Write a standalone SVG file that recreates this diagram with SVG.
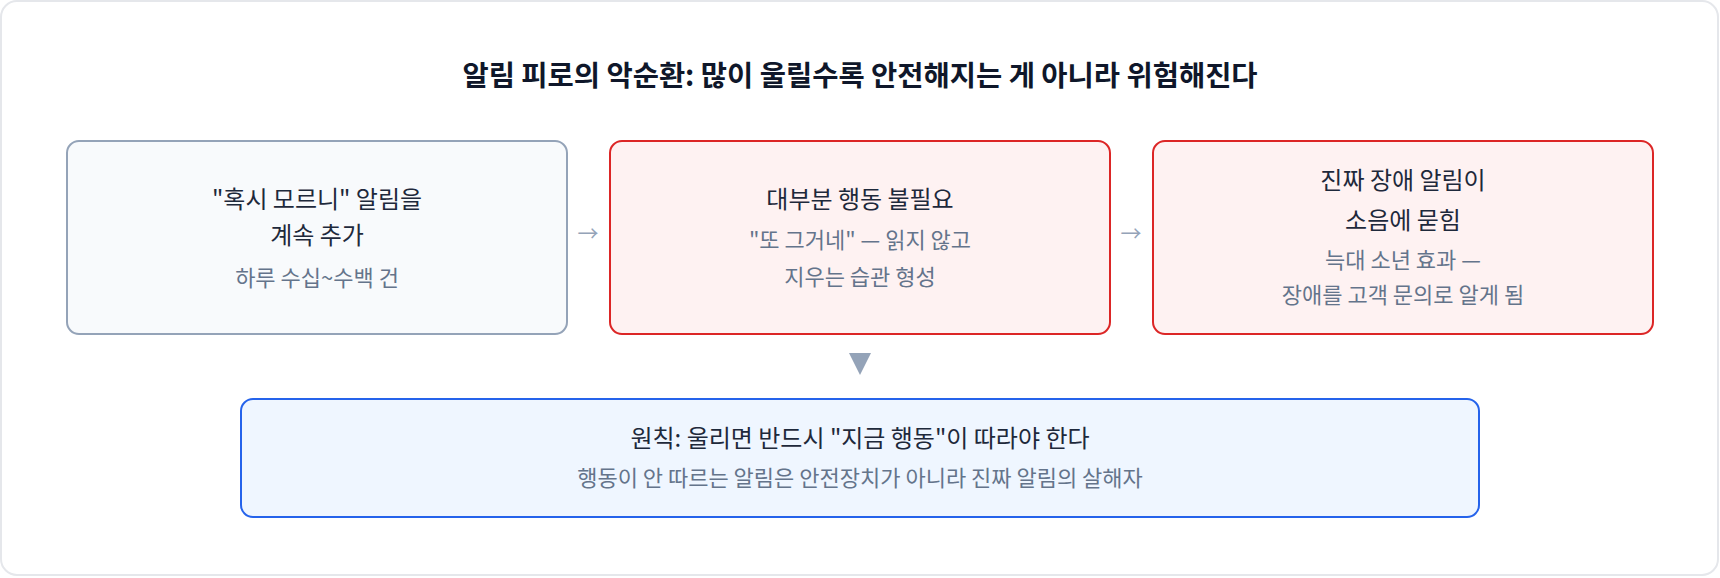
<svg xmlns="http://www.w3.org/2000/svg" width="1720" height="578" viewBox="0 0 1720 578">
<style>
.frame{fill:#ffffff;stroke:#e5e7eb;stroke-width:2}
.t{font-family:"Noto Sans CJK KR","Noto Sans",sans-serif;text-anchor:middle}
.title{font-size:28.5px;font-weight:700;fill:#0f172a}
.main{font-size:24px;fill:#1e293b}
.sub{font-size:22px;fill:#64748b}
.arr{font-size:21px;fill:#94a3b8}
.gray{fill:#f8fafc;stroke:#94a3b8;stroke-width:2}
.red{fill:#fef2f2;stroke:#dc2626;stroke-width:2}
.blue{fill:#eff6ff;stroke:#2563eb;stroke-width:2}
</style>
<rect class="frame" x="1" y="1" width="1717" height="574" rx="16"/>
<text class="t title" x="860" y="86">알림 피로의 악순환: 많이 울릴수록 안전해지는 게 아니라 위험해진다</text>
<g id="node1">
<rect class="gray" x="67" y="141" width="500" height="193" rx="12"/>
<text class="t main" x="317" y="208">"혹시 모르니" 알림을</text>
<text class="t main" x="317" y="244">계속 추가</text>
<text class="t sub" x="317" y="286">하루 수십~수백 건</text>
</g>
<g id="node2">
<rect class="red" x="610" y="141" width="500" height="193" rx="12"/>
<text class="t main" x="860" y="208">대부분 행동 불필요</text>
<text class="t sub" x="860" y="248">"또 그거네" — 읽지 않고</text>
<text class="t sub" x="860" y="285">지우는 습관 형성</text>
</g>
<g id="node3">
<rect class="red" x="1153" y="141" width="500" height="193" rx="12"/>
<text class="t main" x="1403" y="189">진짜 장애 알림이</text>
<text class="t main" x="1403" y="229">소음에 묻힘</text>
<text class="t sub" x="1403" y="268">늑대 소년 효과 —</text>
<text class="t sub" x="1403" y="303">장애를 고객 문의로 알게 됨</text>
</g>
<g id="node4">
<rect class="blue" x="241" y="399" width="1238" height="118" rx="12"/>
<text class="t main" x="860" y="447">원칙: 울리면 반드시 "지금 행동"이 따라야 한다</text>
<text class="t sub" x="860" y="486">행동이 안 따르는 알림은 안전장치가 아니라 진짜 알림의 살해자</text>
</g>
<g id="connectors">
<text class="t arr" x="588" y="241">→</text>
<text class="t arr" x="1131" y="241">→</text>
<polygon points="849,353 871,353 860,375" fill="#94a3b8"/>
</g>
</svg>
